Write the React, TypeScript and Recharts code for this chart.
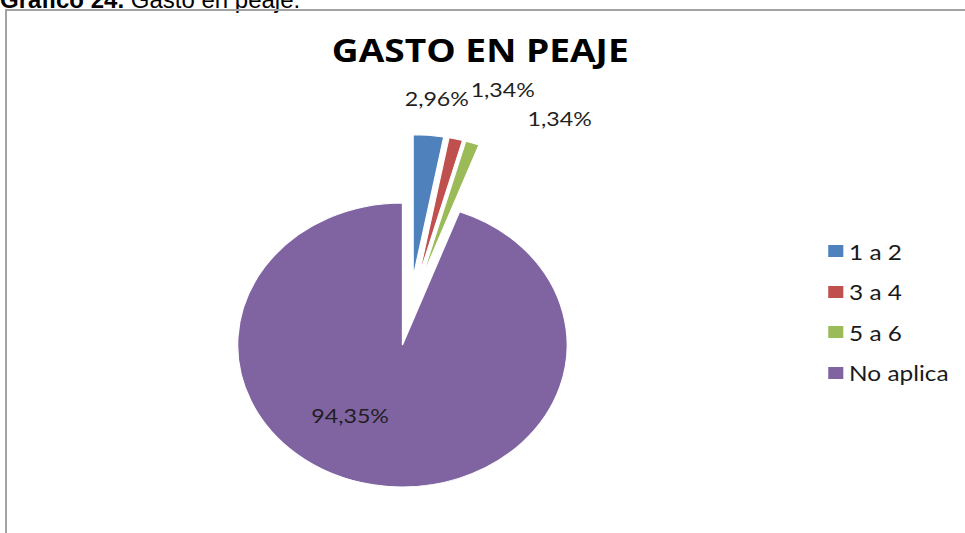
import { PieChart, Pie, Cell, Legend } from "recharts";

const categories = ["1 a 2", "3 a 4", "5 a 6", "No aplica"];
const shares = [2.96, 1.34, 1.34, 94.35];
const colors = ["#4f81bd", "#c0504d", "#9bbb59", "#8064a2"];

// where each percentage label sits, measured from its slice's vertex
const labelRadius = [179, 201, 199, 84];
const labelShift = [1.2, 8.1, 18.8, 22.3];

const data = categories.map((name, i) => ({ name, value: shares[i] }));

const W = 965;
const H = 533;
const SX = 1.16; // the source picture is stretched sideways
const INNER_W = Math.round(W / SX);
const CX = 353;
const CY = 311;
const R = 142;
const EXPLODE = 34.5;
const RAD = Math.PI / 180;

const total = shares.reduce((a, b) => a + b, 0);
const midAngles = shares.map((v, i) => {
  const before = shares.slice(0, i).reduce((a, b) => a + b, 0);
  return ((before + v / 2) / total) * 360; // clockwise from 12 o'clock
});

const fmt = (v: number) => v.toFixed(2).replace(".", ",") + "%";

const font = "Lato, 'Open Sans', sans-serif";

function makeLabel(slice: number) {
  return (props: any) => {
    if (props.index !== slice) return null;
    const a = (midAngles[slice] + labelShift[slice]) * RAD;
    const x = props.cx + labelRadius[slice] * Math.sin(a);
    const y = props.cy - labelRadius[slice] * Math.cos(a);
    return (
      <text
        x={x}
        y={y}
        textAnchor="middle"
        dominantBaseline="central"
        fontFamily={font}
        fontSize={20}
        fill="#1f1f1f"
      >
        {fmt(shares[slice])}
      </text>
    );
  };
}

function LegendBox() {
  return (
    <div style={{ fontFamily: font, fontSize: 21, color: "#1a1a1a" }}>
      {categories.map((c, i) => (
        <div key={c} style={{ display: "flex", alignItems: "center", height: 40.5 }}>
          <span
            style={{
              display: "inline-block",
              width: 13,
              height: 12,
              background: colors[i],
              marginRight: 5,
            }}
          />
          <span>{c}</span>
        </div>
      ))}
    </div>
  );
}

export default function App() {
  return (
    <div
      style={{
        position: "fixed",
        left: 0,
        top: 0,
        width: W,
        height: H,
        overflow: "hidden",
        background: "#fff",
      }}
    >
      <svg width={W} height={20} style={{ position: "absolute", left: 0, top: 0 }}>
        <text x={0} y={8} fontFamily="'Liberation Sans', Arial, sans-serif" fontSize={24} fill="#000">
          <tspan fontWeight="bold">Gráfico 24.</tspan>
          <tspan> Gasto en peaje.</tspan>
        </text>
      </svg>
      <div
        style={{
          position: "absolute",
          left: 5,
          top: 9,
          width: 1100,
          height: 700,
          border: "2px solid #a3a3a3",
        }}
      />
      <div
        style={{
          position: "absolute",
          left: 0,
          top: 0,
          width: INNER_W,
          height: H,
          transform: `scaleX(${SX})`,
          transformOrigin: "0 0",
        }}
      >
        <PieChart width={INNER_W} height={H} margin={{ top: 0, right: 0, bottom: 0, left: 0 }}>
          {shares.map((_, i) => {
            const a = midAngles[i] * RAD;
            return (
              <Pie
                key={i}
                data={data}
                dataKey="value"
                nameKey="name"
                cx={CX + EXPLODE * Math.sin(a)}
                cy={CY - EXPLODE * Math.cos(a)}
                outerRadius={R}
                startAngle={90}
                endAngle={-270}
                label={makeLabel(i)}
                labelLine={false}
                isAnimationActive={false}
              >
                {data.map((d, j) => (
                  <Cell
                    key={d.name}
                    fill={j === i ? colors[j] : "transparent"}
                    stroke={j === i ? "#ffffff" : "none"}
                    strokeWidth={1}
                  />
                ))}
              </Pie>
            );
          })}
          <Legend
            layout="vertical"
            align="right"
            verticalAlign="top"
            content={() => <LegendBox />}
            wrapperStyle={{ left: 714, top: 231, width: 115 }}
          />
        </PieChart>
        <svg
          width={INNER_W}
          height={80}
          style={{ position: "absolute", left: 0, top: 0, pointerEvents: "none" }}
        >
          <text
            x={414}
            y={62}
            textAnchor="middle"
            fontFamily="'Open Sans', Lato, sans-serif"
            fontWeight="bold"
            fontSize={32}
            fill="#000"
          >
            GASTO EN PEAJE
          </text>
        </svg>
      </div>
    </div>
  );
}
